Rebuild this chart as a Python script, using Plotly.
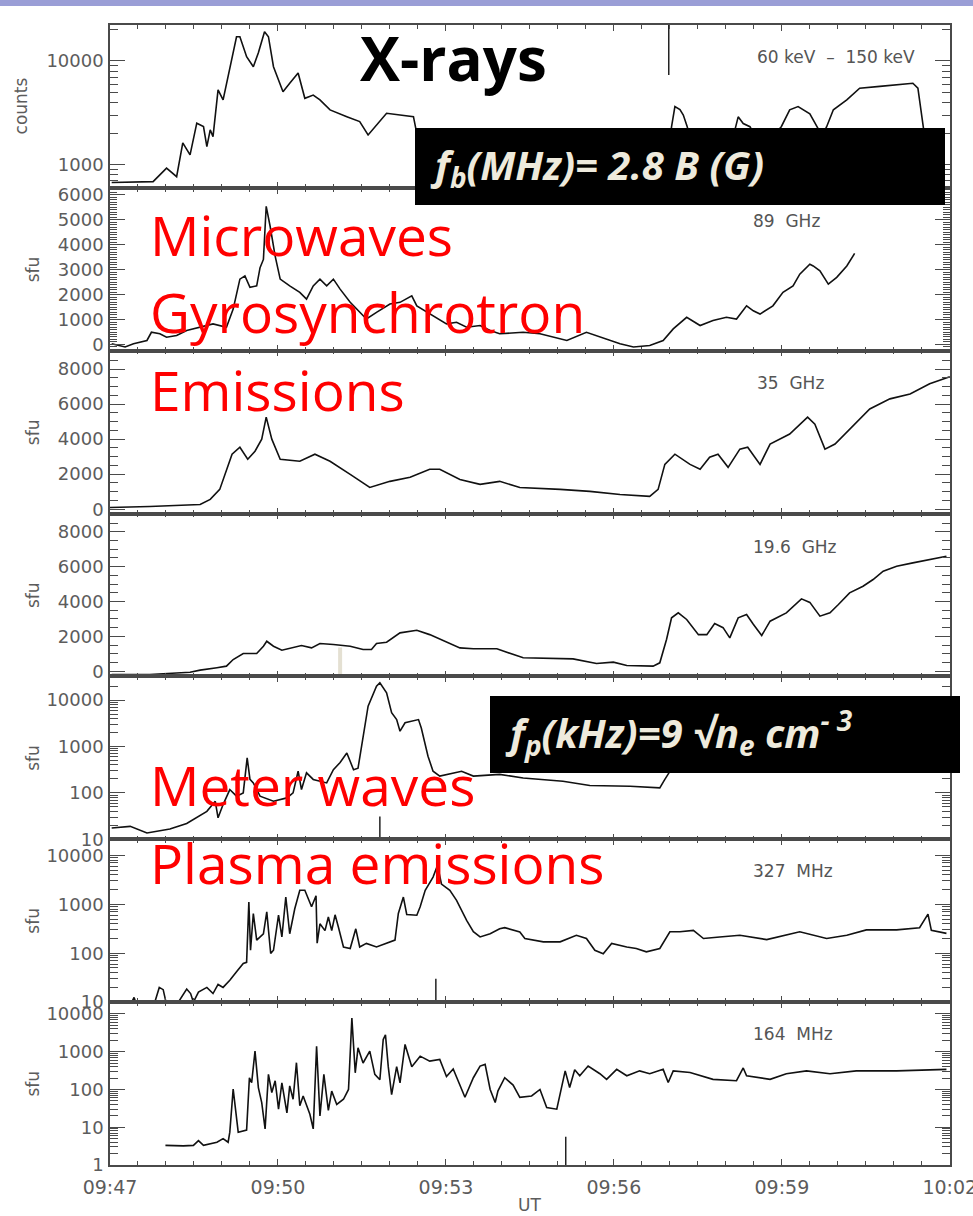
import plotly.graph_objects as go
from plotly.subplots import make_subplots
import pandas as pd

BASE = pd.Timestamp("2000-01-01 09:47:00")

# ---- data: time in minutes after 09:47 UT, values ----
xray_t = [0.03, 0.54, 0.77, 1.01, 1.19, 1.30, 1.43, 1.55, 1.67, 1.73, 1.79, 1.84, 1.93, 2.02, 2.14, 2.26, 2.32,
          2.44, 2.56, 2.65, 2.76, 2.83, 2.92, 3.09, 3.21, 3.36, 3.48, 3.63, 3.75, 3.93, 4.23, 4.46, 4.61, 4.76,
          4.94, 5.18, 5.42, 5.48, 5.8, 6.3, 7.0, 7.6, 8.2, 8.8, 9.4, 9.95, 10.03, 10.09, 10.18, 10.24, 10.31,
          10.4, 10.6, 10.77, 10.9, 11.1, 11.22, 11.31, 11.43, 11.6, 11.8, 11.99, 12.14, 12.29, 12.5, 12.62,
          12.72, 12.8, 12.92, 13.16, 13.39, 13.75, 14.05, 14.34, 14.43, 14.52, 14.6]
xray_v = [676, 690, 690, 930, 770, 1630, 1250, 2520, 2340, 1500, 2170, 1870, 5260, 4220, 8500, 17100, 17100,
          11000, 8810, 12000, 19100, 17100, 8810, 5060, 6090, 7660, 4370, 4700, 4220, 3380, 2910, 2610, 1940, 2430,
          3140, 3020, 2910, 2000, 1800, 1600, 1400, 1300, 1200, 1100, 1050, 1000, 2330, 3640, 3400, 3020, 2330,
          1500, 1400, 2250, 1500, 1600, 2900, 2500, 2330, 1600, 1800, 2330, 3390, 3640, 3100, 2330,
          1900, 2330, 3390, 4220, 5470, 5700, 5930, 6100, 5470, 2330, 1200]

ghz89_t = [0.03, 0.27, 0.42, 0.66, 0.74, 0.89, 1.01, 1.19, 1.37, 1.61, 1.84, 2.08, 2.20, 2.32, 2.41, 2.50, 2.62,
           2.68, 2.74, 2.79, 2.86, 2.95, 3.04, 3.21, 3.39, 3.51, 3.63, 3.75, 3.87, 3.99, 4.11, 4.29, 4.46, 4.58,
           4.76, 5.00, 5.18, 5.39, 5.48, 5.77, 6.01, 6.19, 6.37, 6.61, 6.79, 6.96, 7.38, 7.68, 8.16, 8.51, 8.87,
           9.11, 9.35, 9.64, 9.88, 10.06, 10.30, 10.54, 10.77, 11.01, 11.19, 11.37, 11.49, 11.61, 11.84, 12.02,
           12.20, 12.32, 12.50, 12.56, 12.68, 12.83, 12.98, 13.16, 13.30]
ghz89_v = [28, -100, 28, 160, 490, 430, 290, 360, 560, 690, 825, 690, 1420, 2620, 2750, 2290, 2350,
           3080, 3410, 5540, 4740, 3545, 2620, 2350, 2090, 1820, 2350, 2620, 2350, 2620, 2220, 1690, 1290, 1020,
           1290, 1620, 1690, 1950, 1550, 1155, 825, 890, 690, 760, 560, 430, 490, 430, 160, 490, 230,
           30, -100, -40, 160, 625, 1090, 760, 960, 1090, 1020, 1550, 1350, 1220, 1550, 2090,
           2350, 2820, 3215, 3150, 2950, 2420, 2690, 3150, 3650]

ghz35_t = [0.0, 0.71, 1.61, 1.79, 1.96, 2.18, 2.32, 2.46, 2.59, 2.71, 2.79, 2.89, 3.04, 3.39, 3.66, 3.93, 4.29,
           4.64, 5.00, 5.36, 5.71, 5.89, 6.25, 6.61, 6.96, 7.32, 8.04, 8.57, 9.11, 9.64, 9.79, 9.91, 10.09, 10.36,
           10.54, 10.71, 10.86, 11.04, 11.25, 11.39, 11.61, 11.79, 12.14, 12.32, 12.46, 12.59, 12.77, 12.95,
           13.21, 13.57, 13.93, 14.29, 14.64, 15.0]
ghz35_v = [100, 155, 270, 560, 1130, 3140, 3540, 2850, 3310, 4000, 5260, 4000, 2850, 2740, 3140, 2740, 1990,
           1240, 1590, 1820, 2280, 2280, 1700, 1420, 1590, 1240, 1130, 1020, 840, 730, 1130, 2560, 3140, 2560,
           2280, 2970, 3140, 2390, 3430, 3540, 2560, 3720, 4290, 4860, 5260, 4860, 3430, 3720,
           4580, 5720, 6300, 6580, 7160, 7560]

ghz19_t = [0.03, 0.71, 1.43, 1.61, 1.91, 2.08, 2.20, 2.38, 2.62, 2.74, 2.80, 2.92, 3.07, 3.27, 3.42, 3.60, 3.75,
           3.99, 4.29, 4.52, 4.67, 4.76, 4.94, 5.18, 5.48, 5.71, 5.95, 6.25, 6.49, 6.91, 7.38, 8.27, 8.69, 8.99,
           9.23, 9.70, 9.82, 9.94, 10.03, 10.15, 10.30, 10.51, 10.66, 10.80, 10.95, 11.07, 11.22, 11.37, 11.49,
           11.64, 11.79, 12.08, 12.35, 12.50, 12.68, 12.86, 13.01, 13.21, 13.45, 13.63, 13.81, 14.05, 14.34,
           14.64, 14.94]
ghz19_v = [-190, -190, -60, 60, 200, 290, 670, 1015, 1015, 1435, 1720, 1435, 1205, 1340, 1475, 1340, 1590,
           1530, 1435, 1245, 1245, 1590, 1665, 2200, 2350, 2100, 1780, 1340, 1285, 1285, 770, 710, 440, 520,
           330, 290, 480, 1820, 3065, 3350, 2970, 2100, 2100, 2740, 2500, 1915, 3065, 3250, 2700,
           2050, 2870, 3350, 4155, 3950, 3160, 3350, 3830, 4500, 4880, 5265, 5740, 6030, 6220,
           6410, 6600]

meter_t = [0.03, 0.36, 0.66, 1.07, 1.37, 1.73, 1.88, 1.93, 2.02, 2.14, 2.26, 2.38, 2.45, 2.50, 2.56, 2.68, 2.92,
           3.16, 3.27, 3.36, 3.42, 3.51, 3.63, 3.87, 3.99, 4.11, 4.23, 4.35, 4.43, 4.52, 4.61, 4.76, 4.82, 4.94,
           5.03, 5.12, 5.18, 5.27, 5.42, 5.51, 5.56, 5.68, 5.77, 5.89, 6.28, 6.49, 6.96, 7.38, 8.09, 8.57, 9.29,
           9.82, 9.91, 10.0, 10.2, 10.6, 11.0, 11.5, 12.0, 12.5, 13.0, 13.5, 14.0, 14.5, 15.0]
meter_v = [17.5, 19, 13.7, 16.6, 22, 40, 66, 29, 56, 118, 85, 100, 570, 195, 164, 85, 66,
           78, 100, 293, 118, 270, 195, 164, 316, 450, 725, 316, 340, 1670, 7400, 20000, 23700, 14400,
           5340, 3800, 2140, 3240, 3530, 3800, 2500, 616, 293, 230, 293, 230, 250, 210, 178, 144, 139,
           128, 195, 290, 600, 800, 700, 900, 1000, 1200, 1100, 1300, 1500, 1400, 1600]

mhz327_t = [0.03, 0.39, 0.43, 0.46, 0.80, 0.88, 0.95, 1.00, 1.22, 1.27, 1.37, 1.44, 1.49, 1.58, 1.73, 1.84, 1.93,
            2.02, 2.14, 2.26, 2.38, 2.44, 2.48, 2.51, 2.56, 2.62, 2.74, 2.80, 2.87, 2.92, 3.01, 3.07, 3.14, 3.21,
            3.30, 3.39, 3.48, 3.60, 3.68, 3.70, 3.75, 3.84, 3.90, 3.96, 4.02, 4.08, 4.17, 4.29, 4.39, 4.46, 4.58,
            4.76, 4.94, 5.09, 5.15, 5.24, 5.30, 5.48, 5.54, 5.63, 5.77, 5.85, 5.92, 6.07, 6.19, 6.37, 6.49, 6.61,
            6.79, 6.96, 7.05, 7.32, 7.41, 7.74, 8.04, 8.33, 8.51, 8.66, 8.81, 8.96, 9.23, 9.40, 9.58, 9.82, 10.0,
            10.18, 10.42, 10.60, 10.89, 11.25, 11.73, 12.32, 12.80, 13.16, 13.51, 14.05, 14.46, 14.61, 14.67,
            14.94]
mhz327_v = [10, 10, 12.5, 10, 10, 20, 18, 10, 10, 12.5, 18.5, 15, 10, 16, 20, 15, 23,
            20, 28, 42, 62, 65, 1120, 115, 650, 186, 250, 700, 99, 115, 600, 215, 1410, 250,
            810, 1940, 1940, 890, 1500, 160, 400, 290, 550, 290, 610, 340, 134, 125, 316, 134, 159,
            134, 159, 186, 650, 1410, 620, 600, 890, 1940, 3610, 6280, 2600, 1940, 1210, 470, 275, 215,
            250, 316, 333, 272, 200, 171, 171, 233, 200, 115, 98, 159, 134, 125, 107, 125, 275,
            275, 293, 200, 215, 233, 190, 275, 200, 233, 300, 300, 333, 630, 293,
            255]

mhz164_t = [0.99, 1.31, 1.49, 1.58, 1.67, 1.91, 2.02, 2.11, 2.14, 2.20, 2.29, 2.44, 2.49, 2.53, 2.59, 2.65, 2.71,
            2.77, 2.83, 2.89, 2.95, 3.01, 3.07, 3.16, 3.21, 3.27, 3.33, 3.39, 3.45, 3.57, 3.63, 3.69, 3.75, 3.82,
            3.90, 3.96, 4.05, 4.17, 4.26, 4.32, 4.38, 4.43, 4.52, 4.64, 4.73, 4.82, 4.88, 4.92, 4.97, 5.03, 5.12,
            5.18, 5.27, 5.39, 5.54, 5.71, 5.89, 6.01, 6.13, 6.25, 6.34, 6.49, 6.61, 6.70, 6.79, 6.88, 6.93, 7.05,
            7.20, 7.32, 7.53, 7.68, 7.74, 7.80, 7.98, 8.07, 8.13, 8.21, 8.30, 8.39, 8.54, 8.75, 8.87, 9.05, 9.23,
            9.46, 9.64, 9.88, 9.97, 10.06, 10.36, 10.77, 11.19, 11.31, 11.37, 11.79, 12.08, 12.44, 12.86, 13.33,
            14.05, 14.94]
mhz164_v = [3.3, 3.2, 3.3, 4.4, 3.3, 4.0, 5, 4.0, 7.4, 102, 7.4, 8.4, 204, 150, 1030, 112, 45,
            9, 250, 83, 170, 30, 150, 24, 124, 55, 510, 37, 67, 22, 9, 1390, 20, 250,
            28, 90, 40, 55, 100, 7700, 275, 1260, 500, 1030, 250, 180, 2090, 2800, 400, 73, 400,
            150, 1550, 400, 760, 560, 620, 220, 350, 124, 62, 204, 415, 460, 100, 45, 92, 204,
            130, 62, 67, 100, 55, 33, 30, 135, 310, 112, 330, 230, 415, 260, 185, 340, 230,
            310, 260, 340, 152, 310, 280, 185, 170, 370, 230, 185, 260, 310, 260, 310,
            310, 340]

# time markers (vertical ticks drawn inside panels)
mark_t = [9.98, 4.11, 4.82, 5.82, 8.14]
mark_row = [1, 4, 5, 6, 7]
mark_lo = [7330, -300, 10, 10, 1]
mark_hi = [22180, 1360, 31, 30, 5.6]
mark_col = ["#222222", "#e4e0d2", "#222222", "#222222", "#222222"]
mark_w = [1.5, 4, 1.5, 1.5, 1.5]

x_tick_labels = ["09:47", "09:50", "09:53", "09:56", "09:59", "10:02"]
band_labels = ["60 keV  \u2013  150 keV", "89  GHz", "35  GHz", "19.6  GHz", "", "327  MHz", "164  MHz"]
y_titles = ["counts", "sfu", "sfu", "sfu", "sfu", "sfu", "sfu"]


def tt(m):
    return [BASE + pd.Timedelta(minutes=v) for v in m]


series = [(xray_t, xray_v), (ghz89_t, ghz89_v), (ghz35_t, ghz35_v), (ghz19_t, ghz19_v),
          (meter_t, meter_v), (mhz327_t, mhz327_v), (mhz164_t, mhz164_v)]

fig = make_subplots(rows=7, cols=1, shared_xaxes=True, vertical_spacing=0)
for i, (t, v) in enumerate(series, start=1):
    fig.add_trace(go.Scatter(x=tt(t), y=v, mode="lines", line=dict(color="#111111", width=1.6),
                             hoverinfo="skip", showlegend=False), row=i, col=1)
for t, r, lo, hi, c, w in zip(mark_t, mark_row, mark_lo, mark_hi, mark_col, mark_w):
    fig.add_trace(go.Scatter(x=tt([t, t]), y=[lo, hi], mode="lines", line=dict(color=c, width=w),
                             hoverinfo="skip", showlegend=False), row=r, col=1)

AX = "#4a4a4a"
TICKFONT = dict(family="DejaVu Sans", size=18, color="#5c5c5c")
xtickvals = [BASE + pd.Timedelta(minutes=3 * k) for k in range(len(x_tick_labels))]

for i in range(1, 8):
    fig.update_xaxes(row=i, col=1, type="date", automargin=False,
                     range=[BASE, BASE + pd.Timedelta(minutes=15, milliseconds=200)],
                     showline=True, linecolor=AX, linewidth=1.5, mirror="allticks",
                     ticks="inside", ticklen=6, tickcolor=AX, tickwidth=1.2,
                     tickmode="array", tickvals=xtickvals, ticktext=x_tick_labels,
                     minor=dict(tick0=BASE, dtick=30000, ticks="inside", ticklen=4, tickcolor=AX, tickwidth=1),
                     showgrid=False, zeroline=False, ticklabeloverflow="allow",
                     tickfont=dict(family="DejaVu Sans", size=19, color="#5c5c5c"),
                     showticklabels=(i == 7), ticklabelstandoff=4)


def logminor(lo, hi):
    vals = []
    for d in range(lo, hi + 1):
        for k in range(2, 10):
            vals.append(k * 10 ** d)
    return vals


lin_common = dict(showline=True, linecolor=AX, linewidth=1.5, mirror="allticks", ticks="inside",
                  ticklen=15, tickcolor=AX, tickwidth=1.2, showgrid=False, zeroline=False,
                  tickfont=TICKFONT, ticklabelstandoff=1, automargin=False)

fig.update_yaxes(row=1, col=1, type="log", range=[2.779, 4.346], tickvals=[1000, 10000],
                 ticktext=["1000", "10000"],
                 minor=dict(tickvals=logminor(2, 4), ticks="inside", ticklen=8, tickcolor=AX), **lin_common)
fig.update_yaxes(row=2, col=1, range=[-250, 6280], tickvals=[0, 1000, 2000, 3000, 4000, 5000, 6000],
                 minor=dict(dtick=100, ticks="inside", ticklen=7, tickcolor=AX, tickwidth=0.8), **lin_common)
for r, rng in [(3, [-250, 9050]), (4, [-300, 9050])]:
    fig.update_yaxes(row=r, col=1, range=rng, tickvals=[0, 2000, 4000, 6000, 8000],
                     minor=dict(dtick=500, ticks="inside", ticklen=8, tickcolor=AX), **lin_common)
fig.update_yaxes(row=5, col=1, type="log", range=[1, 4.51], tickvals=[10, 100, 1000, 10000],
                 ticktext=["10", "100", "1000", "10000"],
                 minor=dict(tickvals=logminor(1, 4), ticks="inside", ticklen=8, tickcolor=AX), **lin_common)
fig.update_yaxes(row=6, col=1, type="log", range=[1, 4.33], tickvals=[10, 100, 1000, 10000],
                 ticktext=["10", "100", "1000", "10000"],
                 minor=dict(tickvals=logminor(1, 4), ticks="inside", ticklen=8, tickcolor=AX), **lin_common)
fig.update_yaxes(row=7, col=1, type="log", range=[0, 4.31], tickvals=[1, 10, 100, 1000, 10000],
                 ticktext=["1", "10", "100", "1000", "10000"],
                 minor=dict(tickvals=logminor(0, 4), ticks="inside", ticklen=8, tickcolor=AX), **lin_common)

W, H = 973, 1216
L, R, T, B = 110, 23, 25, 51
PW, PH = W - L - R, H - T - B


def px(x):
    return (x - L) / PW


def py(y):
    return (H - B - y) / PH


shapes = [
    dict(type="rect", xref="paper", yref="paper", x0=px(0), x1=px(W), y0=py(6), y1=py(0),
         fillcolor="#9a9ed6", line=dict(width=0), layer="above"),
    dict(type="rect", xref="paper", yref="paper", x0=px(415), x1=px(945), y0=py(205), y1=py(128),
         fillcolor="#000000", line=dict(width=0), layer="above"),
    dict(type="rect", xref="paper", yref="paper", x0=px(490), x1=px(960), y0=py(773), y1=py(696),
         fillcolor="#000000", line=dict(width=0), layer="above"),
]

ann = []
label_pos = [(836, 57), (786, 221), (790, 383), (795, 547), None, (793, 871), (793, 1034)]
for lab, pos in zip(band_labels, label_pos):
    if pos and lab:
        ann.append(dict(text=lab, x=px(pos[0]), y=py(pos[1]), xref="paper", yref="paper", showarrow=False,
                        xanchor="center", yanchor="middle",
                        font=dict(family="DejaVu Sans", size=17, color="#555555")))
for i, ttl in enumerate(y_titles):
    yc = 1 - (i + 0.5) / 7
    xpos = 21 if ttl == "counts" else 33
    ann.append(dict(text=ttl, x=px(xpos), y=yc, xref="paper", yref="paper", showarrow=False, textangle=-90,
                    xanchor="center", yanchor="middle",
                    font=dict(family="DejaVu Sans", size=17, color="#5c5c5c")))
ann.append(dict(text="UT", x=px(529), y=py(1205), xref="paper", yref="paper", showarrow=False,
                xanchor="center", yanchor="middle",
                font=dict(family="DejaVu Sans", size=17, color="#5c5c5c")))

red = dict(family="Open Sans", size=55, color="#ff0000")
for txt, yy in [("Microwaves", 234), ("Gyrosynchrotron", 311), ("Emissions", 389),
                ("Meter waves", 784), ("Plasma emissions", 862)]:
    ann.append(dict(text=txt, x=px(148), y=py(yy), xref="paper", yref="paper", showarrow=False,
                    xanchor="left", yanchor="middle", font=red))
ann.append(dict(text="<b>X-rays</b>", x=px(358), y=py(58), xref="paper", yref="paper", showarrow=False,
                xanchor="left", yanchor="middle", font=dict(family="Open Sans", size=60, color="#000000")))
boxfont = dict(family="Open Sans", size=40, color="#eeeadc")
ann.append(dict(text="<b><i>f<sub>b</sub>(MHz)= 2.8 B (G)</i></b>", x=px(428), y=py(166), xref="paper",
                yref="paper", showarrow=False, xanchor="left", yanchor="middle", font=boxfont))
ann.append(dict(text="<b><i>f<sub>p</sub>(kHz)=9 \u221an<sub>e</sub> cm<sup>- 3</sup></i></b>", x=px(503),
                y=py(733), xref="paper", yref="paper", showarrow=False, xanchor="left", yanchor="middle",
                font=boxfont))

fig.update_layout(width=W, height=H, margin=dict(l=L, r=R, t=T, b=B, autoexpand=False), paper_bgcolor="white",
                  plot_bgcolor="white", shapes=shapes, annotations=ann, showlegend=False)
fig.write_html("out.html", config={"displayModeBar": False},
               post_script="document.body.style.margin='0px';document.body.style.padding='0px';")
